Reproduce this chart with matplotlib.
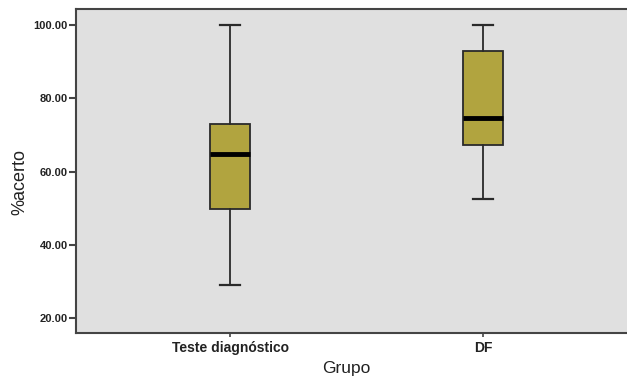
import matplotlib
matplotlib.use("Agg")
import matplotlib.pyplot as plt

groups = ["Teste diagnóstico", "DF"]
whislo = [28.9, 52.4]
q1 = [49.7, 67.3]
med = [64.8, 74.6]
q3 = [72.9, 92.8]
whishi = [100.0, 100.0]
yticks = [20, 40, 60, 80, 100]

plt.rcParams['font.family'] = ['Liberation Sans', 'DejaVu Sans']

fig = plt.figure(figsize=(6.27, 3.77), dpi=100)
W, H = 627, 377
ax = fig.add_axes([76 / W, 1 - 333 / H, (627 - 76) / W, (333 - 9) / H])
ax.set_facecolor('#e0e0e0')

stats = []
for i in range(len(groups)):
    stats.append(dict(label=groups[i], whislo=whislo[i], q1=q1[i], med=med[i],
                      q3=q3[i], whishi=whishi[i], fliers=[]))

ax.bxp(stats, positions=[1, 2], widths=0.16, patch_artist=True, showfliers=False,
       boxprops=dict(facecolor='#b1a43f', edgecolor='#2a2a2a', linewidth=1.3),
       medianprops=dict(color='black', linewidth=3.5),
       whiskerprops=dict(color='#2a2a2a', linewidth=1.3),
       capprops=dict(color='#2a2a2a', linewidth=1.6))

ax.set_xlim(0.391, 2.569)
ax.set_ylim(15.9, 104.4)
ax.set_yticks(yticks)
ax.set_yticklabels([f"{v:.2f}" for v in yticks], fontsize=8, fontweight='bold', color='#222222')
ax.set_xticks([1, 2])
ax.set_xticklabels(groups, fontsize=10, fontweight='bold', color='#222222')

for s in ['left', 'top', 'bottom']:
    ax.spines[s].set_color('#444444')
    ax.spines[s].set_linewidth(1.5)
ax.spines['right'].set_visible(False)
ax.tick_params(axis='y', length=5, width=1.5, color='#444444', pad=1)
ax.tick_params(axis='x', length=3, width=1.2, color='#444444', pad=3)

fig.text(20 / W, 1 - 182 / H, "%acerto", rotation=90, ha='center', va='center', fontsize=13, color='#222222')
fig.text(346 / W, 1 - 369 / H, "Grupo", ha='center', va='center', fontsize=12.5, color='#222222')

fig.savefig("out.png", dpi=100)
